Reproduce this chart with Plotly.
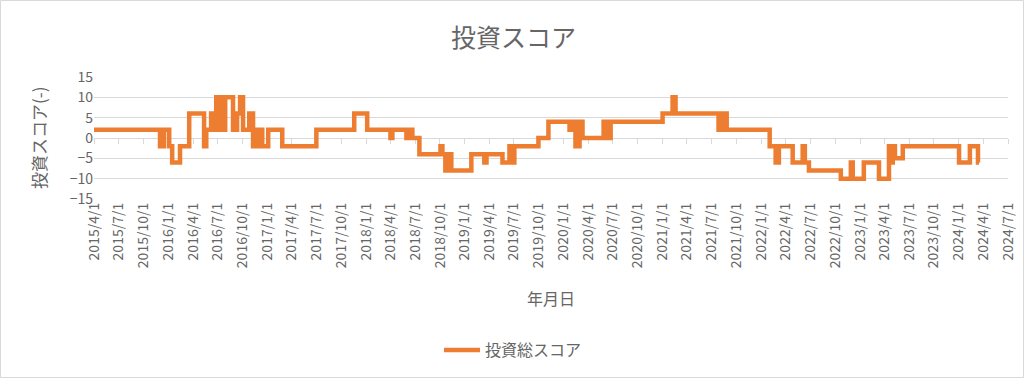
import plotly.graph_objects as go

# ---- data (step change points) ----
change_dates = [
    "2015-04-01", "2015-12-01", "2015-12-16", "2016-01-04", "2016-01-15", "2016-02-13",
    "2016-03-18", "2016-05-12", "2016-05-20", "2016-06-07", "2016-06-14", "2016-06-26",
    "2016-07-07", "2016-07-14", "2016-07-21", "2016-07-29", "2016-08-27", "2016-09-11",
    "2016-09-22", "2016-10-03", "2016-10-26", "2016-11-09", "2016-11-21", "2016-11-28",
    "2016-12-05", "2016-12-13", "2017-01-04", "2017-02-25", "2017-07-01", "2017-11-18",
    "2018-01-05", "2018-04-01", "2018-04-08", "2018-05-30", "2018-06-06", "2018-06-21",
    "2018-07-17", "2018-10-03", "2018-10-10", "2018-10-21", "2018-11-01", "2018-11-12",
    "2019-01-25", "2019-03-14", "2019-03-22", "2019-05-20", "2019-06-15", "2019-06-26",
    "2019-07-03", "2019-09-30", "2019-11-06", "2020-01-23", "2020-01-30", "2020-02-14",
    "2020-02-29", "2020-03-11", "2020-05-28", "2020-06-08", "2020-06-23", "2021-01-01",
    "2021-02-07", "2021-02-18", "2021-07-27", "2021-08-11", "2021-08-26", "2022-02-01",
    "2022-02-23", "2022-03-07", "2022-04-27", "2022-06-03", "2022-06-11", "2022-06-26",
    "2022-10-22", "2022-11-28", "2022-12-05", "2023-01-15", "2023-03-12", "2023-04-18",
    "2023-04-25", "2023-05-02", "2023-05-10", "2023-06-08", "2024-01-02", "2024-02-11",
    "2024-03-12", "2024-03-16",
]
scores = [
    2, -2, 2, -2, -6, -2,
    6, -2, 2, 6, 2, 10,
    2, 10, 2, 10, 2, 6,
    10, 2, 6, -2, 2, -2,
    2, -2, 2, -2, 2, 6,
    2, 0, 2, 0, 2, 0,
    -4, -2, -4, -8, -4, -8,
    -4, -6, -4, -6, -2, -6,
    -2, 0, 4, 2, 4, -2,
    4, 0, 4, 0, 4, 6,
    10, 6, 2, 6, 2, -2,
    -6, -2, -6, -2, -6, -8,
    -10, -6, -10, -6, -10, -2,
    -6, -2, -5, -2, -6, -2,
    -6, -6,
]
tick_dates = [
    "2015-04-01", "2015-07-01", "2015-10-01", "2016-01-01", "2016-04-01", "2016-07-01",
    "2016-10-01", "2017-01-01", "2017-04-01", "2017-07-01", "2017-10-01", "2018-01-01",
    "2018-04-01", "2018-07-01", "2018-10-01", "2019-01-01", "2019-04-01", "2019-07-01",
    "2019-10-01", "2020-01-01", "2020-04-01", "2020-07-01", "2020-10-01", "2021-01-01",
    "2021-04-01", "2021-07-01", "2021-10-01", "2022-01-01", "2022-04-01", "2022-07-01",
    "2022-10-01", "2023-01-01", "2023-04-01", "2023-07-01", "2023-10-01", "2024-01-01",
    "2024-04-01", "2024-07-01",
]
tick_labels = [
    "2015/4/1", "2015/7/1", "2015/10/1", "2016/1/1", "2016/4/1", "2016/7/1",
    "2016/10/1", "2017/1/1", "2017/4/1", "2017/7/1", "2017/10/1", "2018/1/1",
    "2018/4/1", "2018/7/1", "2018/10/1", "2019/1/1", "2019/4/1", "2019/7/1",
    "2019/10/1", "2020/1/1", "2020/4/1", "2020/7/1", "2020/10/1", "2021/1/1",
    "2021/4/1", "2021/7/1", "2021/10/1", "2022/1/1", "2022/4/1", "2022/7/1",
    "2022/10/1", "2023/1/1", "2023/4/1", "2023/7/1", "2023/10/1", "2024/1/1",
    "2024/4/1", "2024/7/1",
]
y_ticks = [-15, -10, -5, 0, 5, 10, 15]

title_text = "投資スコア"
y_title = "投資スコア(-)"
x_title = "年月日"
series_name = "投資総スコア"

# ---- layout geometry ----
W, H = 1024, 378
ML, MR, MT, MB = 94, 16, 77, 179
PW, PH = W - ML - MR, H - MT - MB
FONT = "Noto Sans CJK JP"
GRAY = "#666666"
GRID = "#d9d9d9"
ORANGE = "#ED7D31"


def px_x(p):
    return (p - ML) / PW


def px_y(p):
    return (H - MB - p) / PH


fig = go.Figure()
fig.add_trace(go.Scatter(
    x=change_dates, y=scores, mode="lines", name=series_name,
    line=dict(color=ORANGE, width=4.5, shape="hv"),
))
fig.add_trace(go.Scatter(
    x=[tick_dates[0]], y=[0], xaxis="x2", mode="markers",
    marker=dict(opacity=0), showlegend=False, hoverinfo="skip",
))

fig.update_layout(
    width=W, height=H,
    margin=dict(l=ML, r=MR, t=MT, b=MB, autoexpand=False),
    paper_bgcolor="white", plot_bgcolor="white",
    font=dict(family=FONT, color=GRAY, size=14),
    showlegend=True,
    legend=dict(
        orientation="h", x=px_x(513), y=px_y(350), xanchor="center", yanchor="middle",
        font=dict(size=16, color=GRAY), itemwidth=36, bgcolor="rgba(0,0,0,0)",
    ),
    xaxis=dict(
        type="date", range=[tick_dates[0], tick_dates[-1]],
        tickvals=tick_dates, ticktext=tick_labels, tickangle=-90,
        showgrid=False, showline=False, zeroline=False, ticks="",
        tickfont=dict(size=14, color=GRAY, family=FONT),
    ),
    xaxis2=dict(
        type="date", range=[tick_dates[0], tick_dates[-1]], overlaying="x",
        anchor="free", position=0.5, side="bottom",
        tickvals=tick_dates, showticklabels=False, ticks="outside", ticklen=5,
        tickcolor=GRID, showline=True, linecolor=GRID, linewidth=1,
        showgrid=False, zeroline=False, layer="below traces",
    ),
    yaxis=dict(
        range=[-15, 15], tickvals=y_ticks, showgrid=True, gridcolor=GRID,
        gridwidth=1, zeroline=False, showline=False, ticks="",
        tickfont=dict(size=14, color=GRAY, family=FONT),
    ),
    annotations=[
        dict(text=title_text, x=px_x(513), y=px_y(36), xref="paper", yref="paper",
             xanchor="center", yanchor="middle",
             showarrow=False, font=dict(size=25, color=GRAY, family=FONT)),
        dict(text=y_title, x=px_x(38), y=0.5, xref="paper", yref="paper",
             xanchor="center", yanchor="middle",
             textangle=-90, showarrow=False, font=dict(size=17, color=GRAY, family=FONT)),
        dict(text=x_title, x=0.5, y=px_y(298), xref="paper", yref="paper",
             xanchor="center", yanchor="middle",
             showarrow=False, font=dict(size=16, color=GRAY, family=FONT)),
    ],
    shapes=[
        dict(type="rect", xref="paper", yref="paper",
             x0=px_x(0.5), x1=px_x(W - 0.5), y0=px_y(H - 0.5), y1=px_y(0.5),
             line=dict(color=GRID, width=1), fillcolor="rgba(0,0,0,0)", layer="below"),
    ],
)

fig.write_html("out.html", config={"displayModeBar": False},
               post_script="document.body.style.margin='0';")
